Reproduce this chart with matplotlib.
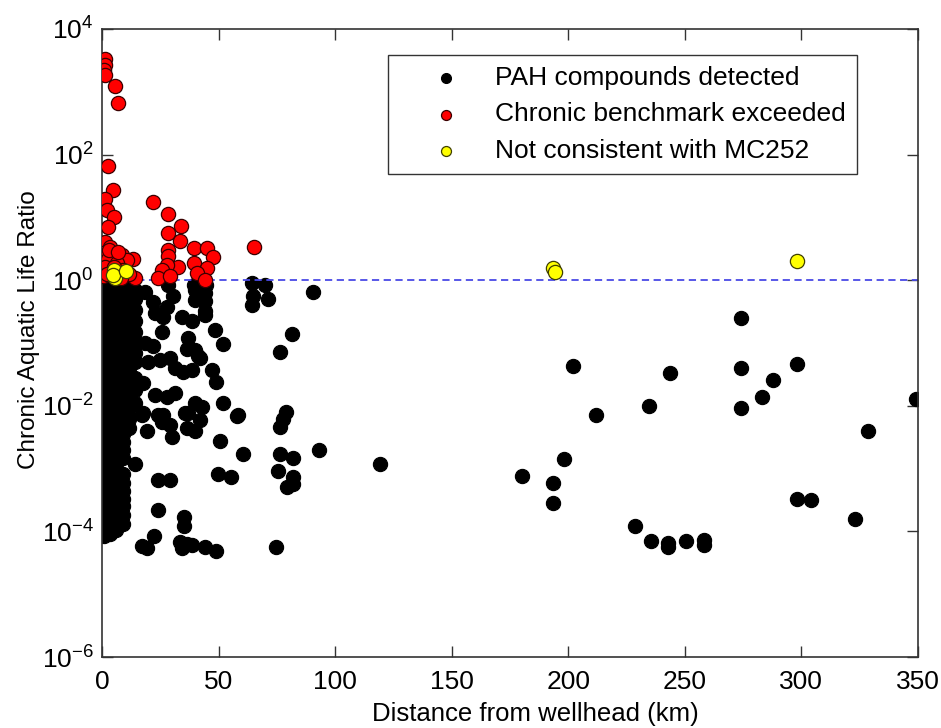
import numpy as np
import matplotlib
matplotlib.use('Agg')
import matplotlib.pyplot as plt

plt.rcParams['font.family'] = ['Liberation Sans', 'DejaVu Sans']
plt.rcParams['mathtext.default'] = 'regular'

# ---- data (distance km, ratio) ----

# dense black cluster close to the wellhead, one list per column
col_a_x = 1.0
col_a_y = [0.89, 0.66, 0.49, 0.36, 0.27, 0.2, 0.15, 0.11, 0.081, 0.06, 0.045, 0.033,
           0.025, 0.018, 0.0135, 0.01, 0.0074, 0.0055, 0.0041, 0.003, 0.0022, 0.0017,
           0.0012, 9.1e-4, 6.8e-4, 5e-4, 3.7e-4, 2.8e-4, 2e-4, 1.5e-4, 1.1e-4, 8.5e-5]
col_b_x = 3.6
col_b_y = [0.78, 0.57, 0.42, 0.31, 0.23, 0.17, 0.13, 0.095, 0.07, 0.052, 0.039, 0.029,
           0.021, 0.016, 0.012, 0.0086, 0.0064, 0.0047, 0.0035, 0.0026, 0.0019, 0.0014,
           0.0011, 7.9e-4, 5.8e-4, 4.3e-4, 3.2e-4, 2.4e-4, 1.8e-4, 1.3e-4, 9e-5]
col_c_x = 6.2
col_c_y = [0.85, 0.63, 0.47, 0.35, 0.26, 0.19, 0.14, 0.105, 0.078, 0.058, 0.043, 0.032,
           0.024, 0.0175, 0.013, 0.0097, 0.0072, 0.0053, 0.004, 0.0029, 0.0021, 0.0016,
           0.0012, 8.8e-4, 6.5e-4, 4.8e-4, 3.6e-4, 2.7e-4, 2e-4, 1.45e-4, 1.05e-4]
col_d_x = 8.8
col_d_y = [0.8, 0.58, 0.43, 0.32, 0.24, 0.18, 0.13, 0.098, 0.072, 0.054, 0.04, 0.03,
           0.022, 0.016, 0.012, 0.0089, 0.0066, 0.0049, 0.0036, 0.0027, 0.002, 0.0015,
           8.1e-4, 6e-4, 4.4e-4, 3.3e-4, 2.5e-4, 1.8e-4, 1.3e-4]
col_e_x = 11.4
col_e_y = [0.86, 0.6, 0.44, 0.3, 0.21, 0.16, 0.12, 0.085, 0.065, 0.047, 0.034, 0.024,
           0.017, 0.012, 0.0088, 0.0062, 0.0045]
col_f_x = 14.2
col_f_y = [0.7, 0.5, 0.33, 0.22, 0.15, 0.1, 0.07, 0.05, 0.028, 0.018, 0.011]

# scattered black points 10-100 km
mid_x = [64.2, 69.9, 71.4, 64.9, 64.2, 90.7, 81.4, 76.4, 44.2, 44.2, 44.2, 48.5, 51.8,
         42.0, 47.0, 48.9, 51.8, 42.8, 42.0, 57.8, 50.6, 60.6, 49.9, 55.2, 78.9, 77.5,
         76.4, 93.2, 76.4, 81.8, 75.6, 82.0, 79.5, 82.0, 44.2, 48.9, 74.6, 39.5, 44.5,
         28.2, 18.4, 22.0, 30.6, 27.8, 22.7, 26.3, 34.2, 38.5, 39.9, 39.9, 44.2, 25.6,
         18.4, 22.0, 37.0, 36.3, 39.9, 41.3, 29.2, 19.9, 24.9, 31.3, 34.9, 38.5, 17.7,
         22.7, 27.8, 31.3, 39.9, 58.5, 17.7, 26.3, 35.6, 17.0, 24.2, 25.6, 19.2, 29.2,
         29.9, 37.0, 36.3, 39.9, 14.2, 24.2, 29.2, 24.2, 35.3, 35.3, 22.4, 17.0, 19.2,
         33.5, 36.3, 38.5, 34.2]
mid_y = [0.91, 0.83, 0.5, 0.56, 0.4, 0.66, 0.14, 0.072, 0.62, 0.46, 0.28, 0.16, 0.096,
         0.057, 0.037, 0.024, 0.011, 0.0097, 0.0059, 0.0068, 0.0028, 0.0017, 8.3e-4,
         7.4e-4, 0.0081, 0.0062, 0.0046, 0.002, 0.0017, 0.0015, 9.3e-4, 7.4e-4, 5.1e-4,
         5.6e-4, 5.6e-5, 4.9e-5, 5.6e-5, 0.85, 0.85,
         0.83, 0.66, 0.45, 0.55, 0.38, 0.30, 0.26, 0.26, 0.22, 0.69, 0.48, 0.32, 0.15,
         0.10, 0.088, 0.12, 0.081, 0.077, 0.061, 0.057, 0.050, 0.054, 0.04, 0.035, 0.037,
         0.023, 0.015, 0.014, 0.016, 0.011, 0.0071, 0.0076, 0.0071, 0.0076, 0.0071,
         0.0071, 0.0056, 0.0039, 0.0049, 0.0032, 0.0076, 0.0044, 0.0039, 0.0012, 6.6e-4,
         6.7e-4, 2.2e-4, 1.7e-4, 1.2e-4, 8.5e-5, 5.8e-5, 5.4e-5, 6.9e-5, 6.4e-5, 6e-5,
         5.4e-5]

# black points far from the wellhead
far_x = [119.3, 180.2, 193.5, 193.5, 198.2, 202.0, 212.0, 228.7, 234.7, 235.5, 242.8,
         242.8, 243.7, 250.5, 258.3, 258.3, 274.0, 274.0, 274.0, 283.0, 288.0, 298.0,
         298.0, 304.0, 323.0, 328.6, 349.0]
far_y = [1.2e-3, 7.6e-4, 5.9e-4, 2.8e-4, 1.4e-3, 0.043, 7.1e-3, 1.2e-4, 0.010, 7e-5,
         6.6e-5, 5.6e-5, 0.033, 7e-5, 7.2e-5, 6e-5, 0.25, 0.04, 0.0093, 0.014, 0.026,
         0.047, 3.3e-4, 3.2e-4, 1.6e-4, 4e-3, 0.013]

# chronic benchmark exceeded
red_x = [1.3, 1.3, 0.9, 1.3, 5.6, 6.7, 2.4, 4.6, 1.3, 2.0, 5.3, 2.4, 21.7, 28.2, 33.9,
         28.4, 33.5, 39.6, 44.9, 47.5, 39.6, 44.9, 40.6, 44.2, 32.7, 28.4, 28.4, 27.7,
         25.6, 24.2, 29.2, 65.3, 1.3, 3.4, 0.6, 2.6, 8.4, 13.2, 10.6, 6.3, 1.3, 14.2,
         9.0, 4.7, 0.6, 3.0, 7.0, 5.0, 11.5, 2.0, 8.0]
red_y = [3300, 2700, 2200, 1850, 1250, 670, 67, 27, 19.5, 13, 10, 7, 17.4, 11.2, 7.2,
         5.7, 4.2, 3.3, 3.3, 2.3, 1.9, 1.55, 1.3, 1.0, 1.65, 3.0, 2.4, 1.74, 1.45, 1.07,
         1.15, 3.4, 4.1, 3.4, 2.7, 2.2, 2.5, 2.2, 2.1, 1.9, 1.6, 1.07, 1.45, 1.3, 1.15,
         3.0, 2.8, 1.6, 1.25, 1.25, 1.1]

# not consistent with MC252
yel_x = [5.1, 5.6, 4.8, 10.3, 193.5, 194.3, 298.0]
yel_y = [1.47, 1.07, 1.2, 1.42, 1.55, 1.35, 2.0]

benchmark = 1.0
legend_labels = ['PAH compounds detected', 'Chronic benchmark exceeded',
                 'Not consistent with MC252']

# ---- assemble black points ----
blk_x = ([col_a_x] * len(col_a_y) + [col_b_x] * len(col_b_y) + [col_c_x] * len(col_c_y)
         + [col_d_x] * len(col_d_y) + [col_e_x] * len(col_e_y) + [col_f_x] * len(col_f_y)
         + mid_x + far_x)
blk_y = col_a_y + col_b_y + col_c_y + col_d_y + col_e_y + col_f_y + mid_y + far_y

fig = plt.figure(figsize=(9.41, 7.28), dpi=100)
ax = fig.add_axes([0.1084, 0.0975, 0.8671, 0.8627])

ms = 105
ax.scatter(blk_x, blk_y, s=ms, c='black', edgecolors='black', linewidths=0.8, zorder=2,
           label=legend_labels[0])
ax.axhline(benchmark, color='#4a4ae6', ls='--', lw=1.3, dashes=(4, 2.5), zorder=2.5)
ax.scatter(red_x, red_y, s=ms, c='#ff0000', edgecolors='#3a0000', linewidths=0.9, zorder=3,
           label=legend_labels[1])
ax.scatter(yel_x, yel_y, s=ms, c='#ffff00', edgecolors='#404000', linewidths=0.9, zorder=4,
           label=legend_labels[2])

ax.set_yscale('log')
ax.set_xlim(0, 350)
ax.set_ylim(1e-6, 1e4)
ax.set_xticks(np.arange(0, 351, 50))
ax.set_yticks([1e-6, 1e-4, 1e-2, 1e0, 1e2, 1e4])
ax.yaxis.set_minor_locator(matplotlib.ticker.NullLocator())
ax.tick_params(which='both', direction='in', top=True, right=True, length=8,
               width=1, labelsize=19, colors='#333333', labelcolor='black', pad=6)
ax.tick_params(axis='x', pad=9)
for sp in ax.spines.values():
    sp.set_color('#333333')
    sp.set_linewidth(1.2)

ax.set_xlabel('Distance from wellhead (km)', fontsize=18.5)
ax.set_ylabel('Chronic Aquatic Life Ratio', fontsize=17.5)
ax.xaxis.set_label_coords(0.531, -0.072)
ax.yaxis.set_label_coords(-0.076, 0.521)

leg = ax.legend(loc='upper right', bbox_to_anchor=(0.925, 0.959), fontsize=19,
                markerscale=0.7, fancybox=False, edgecolor='#333333', framealpha=1,
                handletextpad=0.05, borderpad=0.42, labelspacing=0.48, handlelength=3.6,
                borderaxespad=0)
leg.get_frame().set_linewidth(1.0)

fig.savefig('out.png', dpi=100)
